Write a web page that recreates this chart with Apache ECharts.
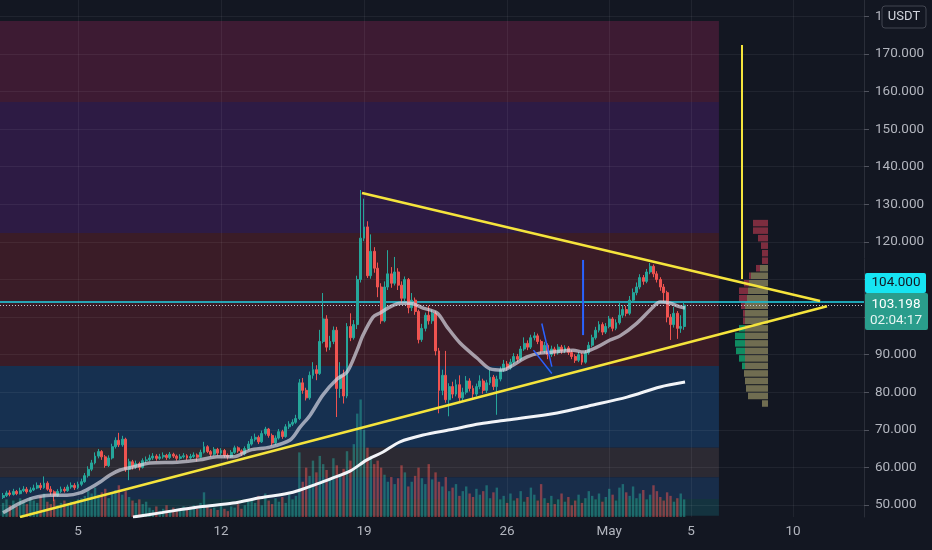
<!DOCTYPE html>
<html><head><meta charset="utf-8">
<script src="https://cdn.jsdelivr.net/npm/echarts@6/dist/echarts.min.js"></script>
<style>html,body{margin:0;padding:0;background:#131722;overflow:hidden}#c{width:932px;height:550px}</style>
</head><body><div id="c"></div><script>
// ---------- DATA ----------
// time axis: day number, April 1 = 1 ... May 1 = 31 (4h candles)
const xTickValues = [5, 12, 19, 26, 31, 35, 40];
const xTickLabels = ['5', '12', '19', '26', 'May', '5', '10'];
const yTickValues = [50, 60, 70, 80, 90, 100, 110, 120, 130, 140, 150, 160, 170, 180];

const candleStart = 1 + 2 / 6;   // first 4h candle
const candleStep = 1 / 6;        // 4 hours
const firstOpen = 52.0;
const closes = [
52.5,53.2,52.8,53.6,53.0,53.8,54.2,53.5,54.0,
54.5,55.2,54.6,55.8,
54.2,53.5,52.5,
53.6,54.2,53.8,54.8,55.2,54.6,55.5,56.2,
57.8,59.5,61.2,63.0,64.2,
62.8,60.5,62.5,
65.5,67.2,66.0,67.5,
59.5,61.5,60.2,
61.0,60.0,61.8,62.0,
62.5,63.0,62.4,62.8,63.2,62.6,63.5,63.0,62.4,62.8,63.1,62.5,62.9,63.3,62.7,
64.0,65.5,64.2,63.5,64.8,
63.8,64.5,63.2,62.8,64.0,65.2,64.4,63.6,65.0,66.2,
67.5,68.0,66.8,69.0,70.2,
68.5,66.5,67.8,
69.5,68.2,70.8,
71.5,72.0,73.0,
82.5,
80.5,78.5,
84.5,86.0,
85.0,
93.5,
99.5,
92.0,
93.5,96.5,
81.0,
84.5,79.0,
97.5,
94.5,98.0,
110.0,
121.0,
124.0,
111.0,
117.5,113.0,108.0,
99.0,
108.0,111.5,109.0,112.0,
108.5,105.0,110.0,102.5,
104.5,101.5,
94.0,
97.0,100.5,99.0,
101.0,91.0,80.5,
84.5,78.0,81.5,
79.5,82.0,78.5,80.0,83.0,81.0,
79.5,81.5,83.0,80.5,82.5,84.0,81.5,
83.5,
86.0,87.5,86.5,88.0,89.5,88.8,
91.5,93.0,92.0,94.5,95.0,93.5,
91.0,92.5,90.0,
91.5,90.5,92.0,91.0,91.8,90.6,
89.5,88.5,90.0,88.0,
90.5,92.5,94.5,96.5,
98.0,96.0,97.5,99.5,97.0,98.5,
100.5,102.0,101.0,104.5,106.5,
108.0,110.5,109.5,112.0,
113.5,111.5,
110.0,108.0,
106.5,100.0,98.0,
101.0,97.0,97.5,
103.198
];
const highs = [
53.2,53.8,53.9,54.3,54.0,54.6,55.0,54.8,54.7,
55.4,56.0,55.9,57.6,
56.3,55.0,53.9,
54.2,54.9,54.8,55.4,56.0,55.8,56.2,57.0,
58.5,60.3,62.0,64.0,64.9,
64.6,63.3,63.2,
66.3,68.0,69.2,68.4,
67.9,62.3,62.0,
61.8,61.5,62.4,62.9,
63.4,63.8,63.5,63.6,64.0,63.6,64.1,63.9,63.4,63.5,63.8,63.5,63.6,64.0,63.7,
64.7,66.8,65.9,64.6,65.4,
65.2,65.1,64.9,63.7,64.6,65.8,65.6,64.8,65.6,67.0,
68.3,69.0,68.5,69.8,70.8,
70.5,69.0,68.5,
70.2,70.0,71.5,
72.3,72.8,74.0,
83.5,
83.8,81.2,
85.5,88.0,
87.2,
96.6,
106.4,
100.5,
95.0,97.5,
97.4,
88.0,86.0,
98.4,
101.0,99.2,
111.0,
133.8,
131.5,
125.5,
122.0,118.6,114.5,
109.0,
109.5,117.8,113.3,116.0,
113.0,109.5,110.8,110.4,
106.4,105.2,
102.0,
98.2,101.2,103.0,
102.0,101.6,91.8,
86.0,91.0,82.4,
82.8,83.4,84.5,81.2,84.3,83.7,
81.8,82.3,84.5,83.6,83.3,86.0,84.6,
84.4,
86.8,88.6,88.3,88.9,90.4,90.2,
92.3,94.6,93.8,95.3,96.0,95.6,
94.0,93.4,93.0,
92.4,92.1,92.8,92.6,92.5,92.3,
91.2,90.1,90.7,90.5,
91.2,93.4,95.3,97.4,
98.9,98.6,98.4,100.3,100.0,99.4,
104.0,103.2,103.0,105.6,107.6,
109.2,111.4,111.2,112.8,
114.4,114.0,
112.2,110.6,
108.8,107.0,100.8,
102.7,101.6,100.5,
104.0
];
const lows = [
51.6,52.1,52.3,52.5,52.6,52.8,53.4,53.0,53.2,
53.7,54.2,54.0,54.3,
53.8,52.6,51.0,
52.2,53.2,53.3,53.5,54.3,54.0,54.2,55.0,
55.9,57.3,59.0,60.8,62.4,
62.0,59.9,60.1,
62.1,65.0,65.4,65.5,
58.8,56.6,59.4,
59.6,59.2,59.7,61.2,
61.6,62.0,61.8,62.0,62.3,62.0,62.2,62.5,61.8,62.0,62.4,61.9,62.1,62.5,61.6,
62.4,63.7,63.8,62.8,63.1,
63.2,63.3,62.6,62.1,62.5,63.6,63.9,63.0,63.2,64.6,
65.8,66.9,66.2,66.5,68.5,
67.9,65.8,66.0,
67.4,67.6,67.9,
70.2,71.0,71.6,
72.6,
79.6,77.8,
78.0,83.6,
83.2,
84.6,
93.0,
90.8,
91.2,92.8,
73.4,
78.5,77.0,
78.4,
93.6,94.0,
96.8,
109.2,
120.2,
110.4,
110.2,111.8,105.3,
98.2,
98.6,107.2,107.8,108.4,
107.2,103.8,104.2,101.0,
101.6,100.6,
93.0,
93.4,96.2,98.0,
98.2,89.8,74.4,
79.2,77.2,73.6,
78.4,78.9,77.6,77.8,79.4,80.2,
78.4,78.9,80.8,79.6,79.8,81.9,80.6,
74.0,
82.9,85.4,85.8,86.0,87.4,88.0,
88.3,91.0,91.2,91.5,93.8,92.8,
90.2,90.4,88.8,
89.4,89.6,90.0,90.2,90.4,89.9,
88.8,87.8,88.0,87.3,
87.6,90.0,92.0,94.0,
95.9,95.2,95.5,97.0,96.2,96.5,
98.0,99.8,100.2,100.5,103.8,
105.8,107.4,108.6,109.0,
111.4,110.6,
109.2,107.0,
104.2,98.6,93.9,
97.2,94.2,95.8,
96.6
];
const volumes = [
12,15,10,14,9,16,13,11,17,14,12,18,20,13,11,15,10,12,14,11,13,12,15,16,
18,22,20,25,19,21,24,16,20,23,27,19,22,17,14,12,15,11,13,
8,6,9,5,7,10,6,8,5,7,9,6,8,10,7,12,21,9,7,8,6,10,7,5,9,8,11,7,10,13,
15,12,18,10,20,14,11,16,13,17,12,19,15,18,
55,
30,42,35,48,38,52,45,40,33,50,44,36,41,
56,48,62,88,100,74,
59,52,45,48,42,36,30,34,28,33,44,38,26,30,35,42,33,28,45,
32,38,30,26,34,22,25,28,18,22,26,20,17,24,19,22,27,16,21,25,
15,18,12,20,14,16,22,13,17,25,19,14,28,16,12,18,11,15,20,13,17,10,14,19,12,16,22,18,15,20,13,17,24,19,14,25,28,21,18,26,16,20,23,15,19,27,22,17,14,21,18,13,16,20,15
];

// moving averages
const maX = [1.33,2.16,2.80,3.63,4.46,5.10,5.59,6.08,6.57,7.06,7.69,8.52,9.85,10.97,11.80,12.59,13.42,14.40,15.38,15.87,16.36,16.99,17.68,18.17,18.66,18.95,19.44,19.78,20.27,20.76,21.25,21.89,22.57,23.06,23.70,24.53,25.17,25.80,26.29,26.98,27.61,28.25,29.23,29.72,30.40,31.04,31.53,32.36,33.15,33.49,33.98,34.47,34.71];
const maY = [47.9,50.5,51.9,52.6,52.6,53.2,54.5,56.1,58.0,59.3,60.1,61.2,61.4,62.0,62.8,62.8,64.6,65.4,67.3,70.7,73.9,79.3,83.5,85.4,91.2,95.2,100.0,101.1,102.7,103.7,103.7,102.4,101.1,97.4,93.1,89.1,86.2,85.9,87.2,89.4,90.4,90.7,91.2,90.7,92.0,93.9,95.0,98.4,102.7,104.0,103.7,102.7,102.4];
const ma200X = [7.69,9.01,10.97,12.59,13.91,15.52,16.70,17.48,18.31,19.14,19.93,20.76,21.89,23.21,24.68,26.00,28.45,30.21,31.87,33.49,34.71];
const ma200Y = [46.8,47.9,49.5,50.5,51.9,53.4,55.6,57.2,59.0,62.0,64.1,66.8,68.6,70.0,71.6,72.6,74.5,76.6,78.7,81.4,82.7];

// horizontal zones (price levels) and drawings
const zoneLevels = [178.8, 157.2, 122.4, 87.0, 65.2, 57.4, 51.6, 47.1];
const zoneStart = 1.18, zoneEnd = 36.37;
const trendUpper = [[18.90, 133.0], [41.32, 104.3]];
const trendLower = [[2.16, 46.8], [41.66, 102.9]];
const yellowVertical = [[37.5, 110.1], [37.5, 172.4]];
const blueVertical = [[29.72, 95.2], [29.72, 115.2]];
const blueStrokeA = [[27.70, 98.3], [28.19, 86.8]];
const blueStrokeB = [[27.29, 91.2], [28.19, 85.0]];
const levelPrice = 104.0;
const lastPrice = 103.198;
const countdown = '02:04:17';

// visible range volume profile: bin low price, value-area volume, down volume, up volume
const vpBinSize = 2;
const vpLow   = [76,78,80,82,84,86,88,90,92,94,96,98,100,102,104,106,108,110,112,114,116,118,120,122,124];
const vpTan   = [6,20,22,23,24,23,23,23,23,23,23,23,23,23,21,20,19,17,8,0,0,0,0,0,0];
const vpRed   = [0,0,0,0,0,0,0,0,0,0,0,2,2,4,8,9,5,2,4,6,6,7,10,15,15];
const vpGreen = [0,0,0,0,0,3,6,9,10,10,6,0,0,0,0,0,0,0,0,0,0,0,0,0,0];
const vpRightDay = 38.77;

// ---------- STYLE ----------
const X_MIN = 1.182, X_MAX = 43.47, Y_MIN = 46.8, Y_MAX = 184.37;
const UP = '#26a69a', DOWN = '#ef5350';
const zoneFillColors = ['#3d1b33', '#2d1b44', '#3a1c27', '#163050', '#2c2a33', '#182d4a', '#14333f'];
const zoneLineColors = ['#e0306a', '#9c36b5', '#d84a4a', '#3a86d8', '#8b8b95', '#64a0dc', '#1fa39a', '#55b85a'];
const FONT = '"Liberation Sans Narrow", Roboto, "Noto Sans", sans-serif';

// ---------- BUILD ----------
const candleRows = closes.map((c, i) => [candleStart + i * candleStep, i ? closes[i - 1] : firstOpen, c, lows[i], highs[i]]);
const volumeRows = volumes.map((v, i) => ({
  value: [candleRows[i][0], v],
  itemStyle: { color: candleRows[i][2] >= candleRows[i][1] ? 'rgba(38,166,154,0.5)' : 'rgba(239,83,80,0.5)' }
}));
const zoneAreas = [];
for (let k = 0; k < zoneLevels.length - 1; k++) {
  zoneAreas.push([{ xAxis: zoneStart, yAxis: zoneLevels[k], itemStyle: { color: zoneFillColors[k] } },
                  { xAxis: zoneEnd, yAxis: zoneLevels[k + 1] }]);
}
const zoneLines = zoneLevels.map((v, k) => [
  { coord: [zoneStart, v], lineStyle: { color: zoneLineColors[k], width: 1.5, type: 'solid' } },
  { coord: [zoneEnd, v] }]);
const gridLines = yTickValues.map(v => ({ yAxis: v })).concat(xTickValues.map(v => ({ xAxis: v })));
const vpRows = vpLow.map((lo, i) => [lo, vpTan[i], vpRed[i], vpGreen[i]]);

function lineSeries(data, color, width, z, smooth) {
  return { type: 'line', data, showSymbol: false, symbol: 'none', smooth: smooth || false, silent: true,
           lineStyle: { color, width }, z, animation: false };
}

const chart = echarts.init(document.getElementById('c'), null, { renderer: 'canvas' });
chart.setOption({
  backgroundColor: '#131722',
  animation: false,
  grid: { left: 0, right: 68, top: 0, bottom: 33 },
  xAxis: {
    type: 'value', min: X_MIN, max: X_MAX,
    axisLine: { show: false }, axisTick: { show: false }, splitLine: { show: false },
    axisLabel: { customValues: xTickValues, formatter: v => xTickLabels[xTickValues.indexOf(v)],
                 color: '#b2b5be', fontSize: 13.5, fontFamily: FONT, margin: 8 }
  },
  yAxis: [{
    type: 'value', position: 'right', min: Y_MIN, max: Y_MAX,
    axisLine: { show: true, lineStyle: { color: '#2a2e39' } },
    axisTick: { show: true, customValues: yTickValues, length: 5, lineStyle: { color: '#50535e' } },
    splitLine: { show: false },
    axisLabel: { customValues: yTickValues, formatter: v => v.toFixed(3), color: '#b2b5be',
                 fontSize: 13.5, fontFamily: FONT, margin: 11 }
  }, {
    type: 'value', min: 0, max: 440, show: false
  }],
  series: [
    { type: 'line', data: [], z: 0, silent: true,
      markArea: { silent: true, data: zoneAreas } },
    { type: 'line', data: [], z: 1, silent: true,
      markLine: { silent: true, symbol: ['none', 'none'], label: { show: false },
                  lineStyle: { color: 'rgba(255,255,255,0.06)', width: 1, type: 'solid' }, data: gridLines } },
    { type: 'bar', yAxisIndex: 1, data: volumeRows, barWidth: 2.4, z: 2, silent: true },
    { type: 'line', data: [], z: 3, silent: true,
      markLine: { silent: true, symbol: ['none', 'none'], label: { show: false }, data: zoneLines } },
    lineSeries(ma200X.map((x, i) => [x, ma200Y[i]]), '#f2f4f8', 3, 4, 0.3),
    { type: 'custom', z: 4, silent: true, data: vpRows, encode: { x: 1, y: 0 },
      renderItem: (params, api) => {
        const lo = api.value(0);
        const a = api.coord([vpRightDay, lo]);
        const b = api.coord([vpRightDay, lo + vpBinSize]);
        const y = b[1] + 0.5, h = Math.max(1, a[1] - b[1] - 1);
        const parts = [[api.value(1), 'rgba(170,163,110,0.62)'], [api.value(2), 'rgba(190,60,80,0.62)'], [api.value(3), 'rgba(16,170,115,0.8)']];
        let x = a[0];
        const children = [];
        parts.forEach(([v, c]) => {
          if (v > 0) { x -= v; children.push({ type: 'rect', shape: { x, y, width: v, height: h }, style: { fill: c } }); }
        });
        return { type: 'group', children };
      } },
    { type: 'candlestick', data: candleRows, encode: { x: 0, y: [1, 2, 3, 4] }, barWidth: 2.4, z: 5, silent: true,
      itemStyle: { color: UP, color0: DOWN, borderColor: UP, borderColor0: DOWN, borderWidth: 1 } },
    lineSeries(maX.map((x, i) => [x, maY[i]]), 'rgba(220,220,232,0.68)', 3.5, 6, 0.3),
    lineSeries(trendUpper, '#f5e43c', 2.5, 7),
    lineSeries(trendLower, '#f5e43c', 2.5, 7),
    lineSeries(yellowVertical, '#f5e43c', 2, 7),
    lineSeries(blueVertical, '#2962ff', 2, 7),
    lineSeries(blueStrokeA, '#2962ff', 1.5, 7),
    lineSeries(blueStrokeB, '#2962ff', 1.5, 7),
    { type: 'line', data: [], z: 8, silent: true,
      markLine: { silent: true, symbol: ['none', 'none'], label: { show: false }, data: [
        { yAxis: levelPrice, lineStyle: { color: '#22d3e6', width: 1.5, type: 'solid' } },
        { yAxis: lastPrice, lineStyle: { color: '#c8cad0', width: 1, type: [1, 2] } }
      ] } }
  ]
});

// price scale labels and currency badge
const pLevel = chart.convertToPixel({ gridIndex: 0 }, [X_MAX, levelPrice]);
const pLast = chart.convertToPixel({ gridIndex: 0 }, [X_MAX, lastPrice]);
const axisX = pLevel[0];
chart.setOption({
  graphic: [
    { type: 'rect', z: 100, shape: { x: axisX + 18, y: 6, width: 44, height: 22, r: 3 },
      style: { fill: '#131722', stroke: '#434651', lineWidth: 1 } },
    { type: 'text', z: 101, x: axisX + 40, y: 17,
      style: { text: 'USDT', fill: '#d1d4dc', font: '13px ' + FONT, align: 'center', verticalAlign: 'middle' } },
    { type: 'rect', z: 100, shape: { x: axisX + 1, y: pLevel[1] - 29, width: 61, height: 20, r: 2 },
      style: { fill: '#16e4f2' } },
    { type: 'text', z: 101, x: axisX + 32, y: pLevel[1] - 19,
      style: { text: levelPrice.toFixed(3), fill: '#131722', font: '13.5px ' + FONT, align: 'center', verticalAlign: 'middle' } },
    { type: 'rect', z: 100, shape: { x: axisX + 1, y: pLast[1] - 12, width: 63, height: 37, r: 2 },
      style: { fill: '#2a9d8c' } },
    { type: 'text', z: 101, x: axisX + 32, y: pLast[1],
      style: { text: lastPrice.toFixed(3), fill: '#ffffff', font: '13.5px ' + FONT, align: 'center', verticalAlign: 'middle' } },
    { type: 'text', z: 101, x: axisX + 32, y: pLast[1] + 16,
      style: { text: countdown, fill: '#e6f4f1', font: '13.5px ' + FONT, align: 'center', verticalAlign: 'middle' } }
  ]
});
</script></body></html>
